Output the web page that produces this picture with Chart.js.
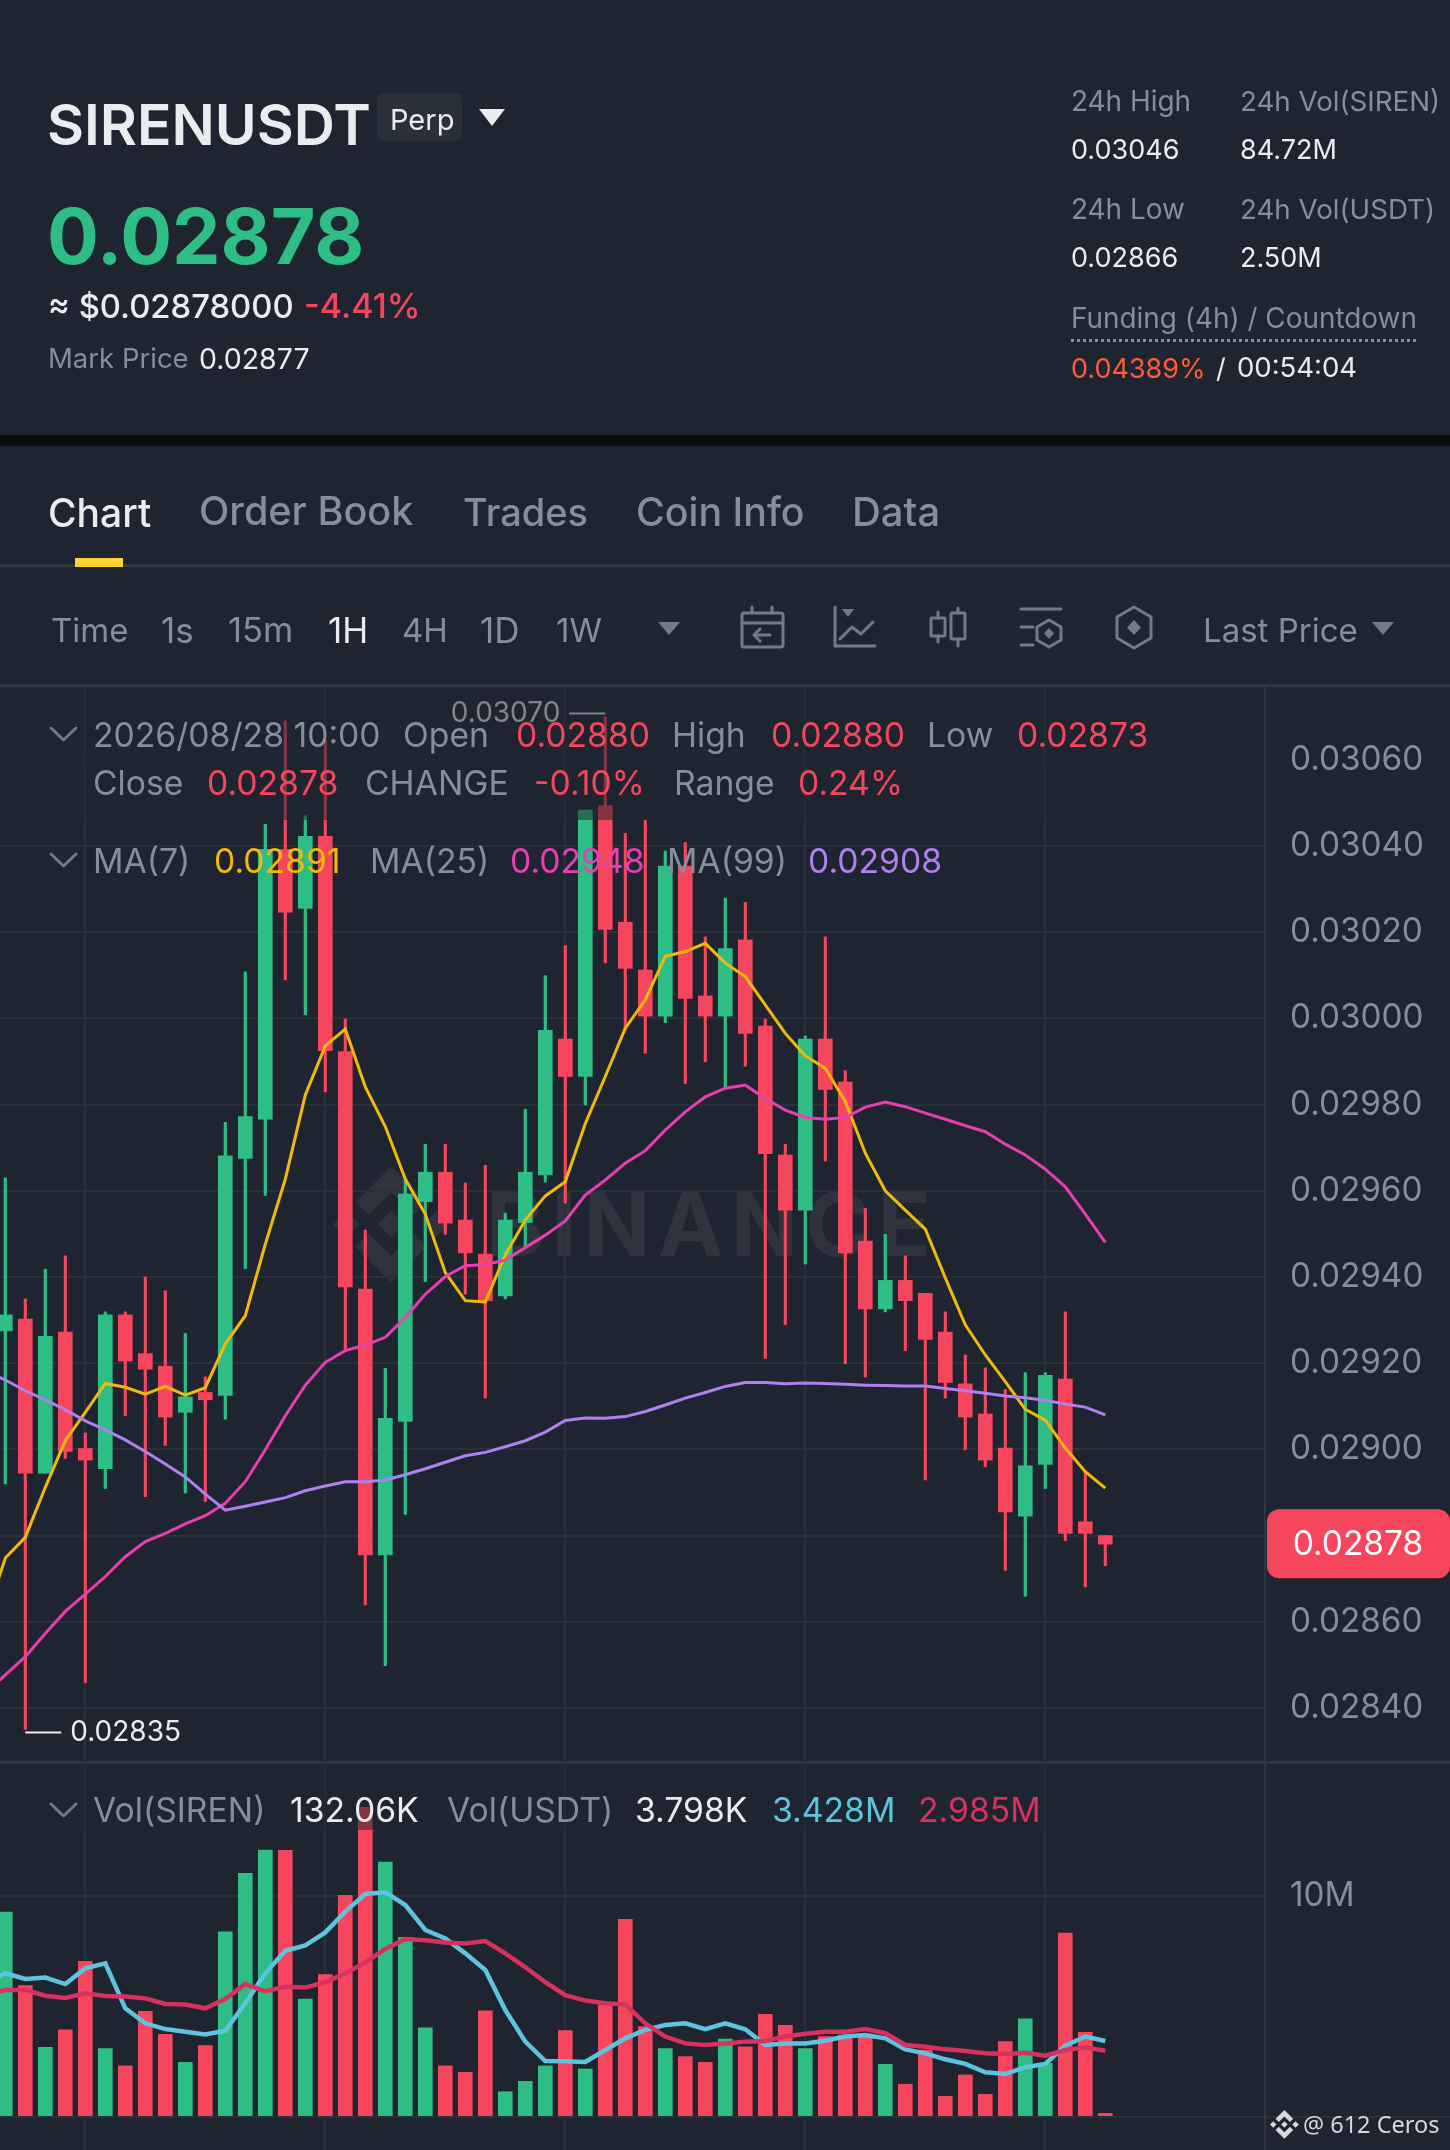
<!DOCTYPE html>
<html>
<head>
<meta charset="utf-8">
<title>SIRENUSDT Perp</title>
<script src="https://cdn.jsdelivr.net/npm/chart.js@4"></script>
<style>
    html, body { margin: 0; padding: 0; background: #1e2530; }
    body { position: relative; width: 1450px; height: 2150px; overflow: hidden; font-family: Inter, sans-serif; }
    .t { position: absolute; white-space: pre; transform: translateY(-50%); line-height: 1; }
    .box { position: absolute; }
    canvas { position: absolute; left: 0; }
    svg { position: absolute; left: 0; top: 0; }
</style>
</head>
<body>
<div class="box" style="left:0;top:435px;width:1450px;height:11px;background:#0b0e11"></div>
<div class="box" style="left:0;top:564px;width:1450px;height:3px;background:#2f3640"></div>
<div class="box" style="left:75px;top:558px;width:48px;height:9px;background:#fcd535"></div>
<div class="box" style="left:0;top:684px;width:1450px;height:3px;background:#2f3640"></div>
<div class="box" style="left:0;top:1761px;width:1450px;height:3px;background:#2f3640"></div>
<div class="box" style="left:1265px;top:2116px;width:185px;height:2px;background:#2a303a"></div>
<div class="box" style="left:377px;top:93px;width:85px;height:48px;background:#2a303a;border-radius:7px"></div>
<div class="box" style="left:1071px;top:339px;width:345px;border-top:3px dotted #848e9c"></div>

<!-- watermark sits under the candles -->
<svg id="watermark" width="1450" height="2150" viewBox="0 0 1450 2150">
    <g transform="translate(333,1166) scale(4.85)" fill="#2f333d">
        <path d="M16.624 13.9202l2.7175 2.7154-7.353 7.353-7.353-7.352 2.7175-2.7164 4.6355 4.6595 4.6356-4.6595zm4.6366-4.6366L24 12l-2.7154 2.7164L18.5682 12l2.6924-2.7164zm-9.272.001l2.7163 2.6914-2.7164 2.7174v-.001L9.2721 12l2.7164-2.7154zm-9.2722-.001L5.4088 12l-2.6914 2.6924L0 12l2.7164-2.7164zM11.9885.0115l7.353 7.329-2.7174 2.7154-4.6356-4.6356-4.6355 4.6595-2.7174-2.7154 7.353-7.353z"/>
    </g>
    <text x="486" y="1256" font-family="Inter" font-weight="700" font-size="88" fill="#2f333d" textLength="445">BINANCE</text>
</svg>

<canvas id="priceChart" width="1450" height="1076" style="top:686px;width:1450px;height:1076px"></canvas>
<canvas id="volChart" width="1450" height="388" style="top:1762px;width:1450px;height:388px"></canvas>

<!-- legend strips fade what runs under them -->
<div class="box" style="left:0;top:687px;width:1264px;height:133px;background:rgba(30,37,48,.52)"></div>
<div class="box" style="left:0;top:1764px;width:1264px;height:66px;background:rgba(30,37,48,.52)"></div>

<svg id="icons" width="1450" height="2150" viewBox="0 0 1450 2150" fill="none" stroke="#707a8a" stroke-width="3" stroke-linecap="round" stroke-linejoin="round">
    <!-- chevrons -->
    <path d="M51 728l12.500 12 12.500-12M51 854l12.500 12 12.500-12" stroke="#707a8a"/>
    <path d="M51 1804l12.500 12 12.500-12"/>
    <!-- dropdown triangles -->
    <path d="M479 109h26l-13 17z" fill="#eaecef" stroke="none"/>
    <path d="M658 622h22l-11 13z" fill="#707a8a" stroke="none"/>
    <path d="M1372 622h22l-11 13z" fill="#707a8a" stroke="none"/>
    <!-- calendar -->
    <rect x="742" y="613" width="41" height="34" rx="2"/>
    <path d="M752 607v6M772 607v6M742 623h41M770 635h-15M760 629l-6 6 6 6"/>
    <!-- chart type -->
    <path d="M835 607v39h40M840 639l12-12 9 7 12-12"/>
    <path d="M842 609h12l-6 8z" fill="#707a8a" stroke="none"/>
    <!-- candles -->
    <rect x="931" y="618" width="14" height="18" rx="1"/>
    <rect x="951" y="613" width="14" height="26" rx="1"/>
    <path d="M938 612v6M938 636v6M958 608v5M958 639v7"/>
    <!-- settings -->
    <path d="M1021 609h40M1021 627h12M1021 645h12"/>
    <path d="M1049 620l12 7v13l-12 7-12-7v-13z"/>
    <path d="M1049 628l5 5.500-5 5.500-5-5.500z" fill="#707a8a" stroke="none"/>
    <!-- hexagon -->
    <path d="M1134 607l17 10v21l-17 10-17-10v-21z"/>
    <path d="M1134 620l7 7.500-7 7.500-7-7.500z" fill="#707a8a" stroke="none"/>
</svg>

<svg id="footLogo" width="1450" height="2150" viewBox="0 0 1450 2150">
    <g transform="translate(1270,2110) scale(1.2)" fill="#d5d8dc">
        <path d="M16.624 13.9202l2.7175 2.7154-7.353 7.353-7.353-7.352 2.7175-2.7164 4.6355 4.6595 4.6356-4.6595zm4.6366-4.6366L24 12l-2.7154 2.7164L18.5682 12l2.6924-2.7164zm-9.272.001l2.7163 2.6914-2.7164 2.7174v-.001L9.2721 12l2.7164-2.7154zm-9.2722-.001L5.4088 12l-2.6914 2.6924L0 12l2.7164-2.7164zM11.9885.0115l7.353 7.329-2.7174 2.7154-4.6356-4.6356-4.6355 4.6595-2.7174-2.7154 7.353-7.353z"/>
    </g>
</svg>

<script>
// 56 hourly candles, last one is 2026/08/28 10:00
const opens = [0.029275,0.029302,0.028945,0.029272,0.029002,0.028955,0.029312,0.029222,0.029193,0.029086,0.029132,0.029125,0.029675,0.029766,0.030392,0.030255,0.030422,0.029923,0.029372,0.028755,0.029065,0.029575,0.029643,0.029532,0.029453,0.029356,0.029526,0.029637,0.029952,0.029865,0.030493,0.030223,0.030112,0.030005,0.030353,0.030052,0.030005,0.030182,0.029982,0.029683,0.029555,0.029952,0.029852,0.029483,0.029326,0.029392,0.029362,0.029272,0.029152,0.029082,0.029003,0.028845,0.028965,0.029163,0.028832,0.02880];
const closes = [0.029312,0.028945,0.029262,0.028995,0.028975,0.029312,0.029205,0.029186,0.029075,0.029122,0.029115,0.029681,0.029772,0.030392,0.030246,0.030422,0.029925,0.029377,0.028755,0.029072,0.029592,0.029643,0.029525,0.029456,0.029345,0.029532,0.029643,0.029972,0.029865,0.030483,0.030206,0.030116,0.030005,0.030353,0.030046,0.030005,0.030162,0.029965,0.029686,0.029555,0.029952,0.029835,0.029456,0.029326,0.029392,0.029345,0.029255,0.029155,0.029075,0.028975,0.028855,0.028962,0.029172,0.028805,0.028805,0.02878];
const highs = [0.02963,0.029349,0.029418,0.029449,0.029038,0.029319,0.029319,0.0294,0.029368,0.029269,0.029168,0.029759,0.030108,0.03045,0.03069,0.03047,0.030646,0.029998,0.029509,0.029188,0.029625,0.029708,0.029708,0.029618,0.029659,0.029548,0.029789,0.030099,0.030169,0.030483,0.0307,0.030429,0.030459,0.030388,0.030408,0.030189,0.030279,0.030269,0.029998,0.029708,0.029959,0.030189,0.029879,0.029559,0.029499,0.029449,0.029362,0.029319,0.029219,0.029189,0.029139,0.029178,0.029178,0.029319,0.02895,0.0288];
const lows = [0.02892,0.02835,0.028945,0.028979,0.028459,0.028909,0.029078,0.02889,0.029009,0.028899,0.028879,0.02907,0.029419,0.029589,0.030089,0.030008,0.029829,0.029231,0.028639,0.028498,0.028849,0.029389,0.029499,0.02936,0.029119,0.029349,0.029469,0.02962,0.029571,0.029799,0.030129,0.029973,0.029919,0.02999,0.029849,0.029899,0.029838,0.029889,0.029211,0.029289,0.02943,0.029669,0.029199,0.029168,0.029319,0.029229,0.028929,0.029119,0.028999,0.02896,0.028719,0.028659,0.028909,0.028788,0.028681,0.02873];

// moving averages start one candle left of the frame, they run off the edge
const ma7 = [0.028606,0.028748,0.028796,0.028912,0.02902,0.029086,0.029153,0.029144,0.029128,0.029146,0.029126,0.029143,0.029245,0.02931,0.029476,0.029627,0.029822,0.029936,0.029975,0.029841,0.029749,0.029627,0.029546,0.02941,0.029345,0.029342,0.029451,0.029532,0.029588,0.029621,0.029756,0.029865,0.029977,0.030043,0.030144,0.030155,0.030174,0.030128,0.030097,0.030031,0.029965,0.029913,0.029884,0.029807,0.029687,0.0296,0.029555,0.029511,0.029398,0.029289,0.029219,0.029157,0.029093,0.029068,0.029003,0.028948,0.02891];
const ma25 = [0.028432,0.028477,0.028519,0.028573,0.028624,0.028664,0.028705,0.028751,0.028786,0.028805,0.028827,0.028846,0.028875,0.028925,0.028999,0.029078,0.029149,0.029202,0.029229,0.029242,0.02926,0.029306,0.02936,0.029401,0.029426,0.029429,0.029439,0.029468,0.029497,0.02953,0.02959,0.029625,0.029664,0.029693,0.029741,0.029783,0.029818,0.029838,0.029845,0.029814,0.029787,0.02977,0.029766,0.02977,0.029794,0.029806,0.029795,0.02978,0.029766,0.029751,0.029737,0.029708,0.029683,0.02965,0.029609,0.029546,0.02948];
const ma99 = [0.029182,0.029161,0.029136,0.029115,0.029092,0.029066,0.029045,0.029022,0.028995,0.028966,0.028936,0.028896,0.028859,0.028868,0.028878,0.028888,0.028904,0.028915,0.028925,0.028925,0.028929,0.028941,0.028955,0.02897,0.028985,0.028993,0.029006,0.02902,0.02904,0.029067,0.029073,0.029072,0.029076,0.029088,0.029103,0.029119,0.029132,0.029146,0.029155,0.029155,0.029152,0.029154,0.029153,0.029151,0.029149,0.029148,0.029147,0.029147,0.029141,0.029136,0.02913,0.029124,0.02912,0.029114,0.029105,0.029098,0.02908];

const volumes = [9.27,5.94,3.14,3.93,7.04,3.08,2.30,4.77,3.73,2.46,3.22,8.37,11.03,12.08,12.07,5.33,6.44,10.03,14.02,11.53,8.13,4.02,2.30,2.01,4.80,1.13,1.60,2.30,3.90,2.16,5.06,8.94,4.08,3.08,2.72,2.46,3.52,3.17,4.64,4.14,3.08,3.63,3.70,3.70,2.37,1.47,3.02,0.92,1.89,1.01,3.40,4.43,2.42,8.32,3.82,0.15];
const volMa5 = [6.04,6.50,6.24,6.30,6.01,6.72,6.95,4.91,4.23,3.97,3.85,3.72,3.90,5.14,6.50,7.52,7.76,8.35,9.29,10.09,10.17,9.59,8.46,8.08,7.40,6.65,4.83,3.40,2.52,2.51,2.48,3.02,3.55,3.93,4.15,4.23,3.97,4.23,3.96,3.25,3.32,3.32,3.44,3.63,3.70,3.55,3.05,2.87,2.60,2.39,2.01,1.93,2.24,2.39,3.22,3.63,3.428];
const volMa10 = [5.51,5.74,5.74,5.48,5.38,5.59,5.47,5.44,5.36,5.11,5.08,4.91,5.33,6.01,5.68,5.89,5.85,6.09,6.50,6.98,7.60,8.05,7.99,7.89,7.85,7.96,7.40,6.77,6.09,5.51,5.26,5.14,5.09,4.23,3.63,3.32,3.25,3.32,3.40,3.43,3.63,3.76,3.85,3.85,3.97,3.78,3.25,3.17,3.05,2.98,2.87,2.84,2.90,2.76,3.02,3.13,2.985];

const priceTicks = [0.0284,0.0286,0.0288,0.029,0.0292,0.0294,0.0296,0.0298,0.03,0.0302,0.0304,0.0306];
const volTicks = [0,10];
const timeGrid = [4,16,28,40,52];

const UP = '#2ebd85';
const DOWN = '#f6465d';
const GRID = '#2a303a';
const AXIS = '#2f3640';
const MUTED = '#848e9c';
const WHITE = '#eaecef';

// labels around the chart
function put(text, x, y, size, color, weight) {
    const el = document.createElement('div');
    el.className = 't';
    el.textContent = text;
    el.style.left = x + 'px';
    el.style.top = y + 'px';
    el.style.fontSize = size + 'px';
    el.style.color = color;
    el.style.fontWeight = weight || 400;
    document.body.appendChild(el);
    return el;
}

// header
put('SIRENUSDT', 47, 124, 57, WHITE, 600);
put('Perp', 390, 119, 29, WHITE);
put('0.02878', 47, 236, 77, UP, 700);
put('≈ $0.02878000', 48, 306, 32.8, WHITE, 500);
put('-4.41%', 304, 306, 34, DOWN, 500);
put('Mark Price', 48, 359, 27.5, MUTED);
put('0.02877', 199, 359, 28.5, WHITE);
put('24h High', 1071, 102, 27.9, MUTED);
put('0.03046', 1071, 149, 27, WHITE);
put('24h Vol(SIREN)', 1240, 102, 27.7, MUTED);
put('84.72M', 1240, 149, 27, WHITE);
put('24h Low', 1071, 210, 27.9, MUTED);
put('0.02866', 1071, 257, 27, WHITE);
put('24h Vol(USDT)', 1240, 210, 27.7, MUTED);
put('2.50M', 1240, 257, 27, WHITE);
put('Funding (4h) / Countdown', 1071, 319, 27.9, MUTED);
put('0.04389%', 1071, 368, 27, '#ff5c38');
put('/', 1216, 368, 27, WHITE);
put('00:54:04', 1237, 368, 27.5, WHITE);

// tabs and toolbar
put('Chart', 48, 512, 39, WHITE, 500);
put('Order Book', 199, 512, 39.6, MUTED, 500);
put('Trades', 463, 512, 38, MUTED, 500);
put('Coin Info', 636, 512, 39.3, MUTED, 500);
put('Data', 852, 512, 40, MUTED, 500);
put('Time', 51, 630, 33, MUTED);
put('1s', 161, 630, 35, MUTED);
put('15m', 228, 630, 34.5, MUTED);
put('1H', 328, 630, 35, WHITE);
put('4H', 402, 630, 33, MUTED);
put('1D', 480, 630, 35, MUTED);
put('1W', 556, 630, 33, MUTED);
put('Last Price', 1203, 630, 33, MUTED);

// legends
put('2026/08/28 10:00', 93, 735, 33.7, MUTED);
put('Open', 403, 735, 33.7, MUTED);
put('0.02880', 516, 735, 33.7, DOWN);
put('High', 672, 735, 33.7, MUTED);
put('0.02880', 771, 735, 33.7, DOWN);
put('Low', 927, 735, 33.7, MUTED);
put('0.02873', 1017, 735, 33.7, DOWN);
put('Close', 93, 783, 33.7, MUTED);
put('0.02878', 207, 783, 33.7, DOWN);
put('CHANGE', 365, 783, 33.7, MUTED);
put('-0.10%', 534, 783, 33.7, DOWN);
put('Range', 674, 783, 33.7, MUTED);
put('0.24%', 798, 783, 33.7, DOWN);
put('MA(7)', 93, 861, 33.7, MUTED);
put('0.02891', 214, 861, 33.7, '#f0b90b');
put('MA(25)', 370, 861, 33.7, MUTED);
put('0.02948', 510, 861, 33.7, '#e83fb0');
put('MA(99)', 667, 861, 33.7, MUTED);
put('0.02908', 808, 861, 33.7, '#b07ff0');
put('Vol(SIREN)', 93, 1810, 33.7, MUTED);
put('132.06K', 290, 1810, 33.7, WHITE);
put('Vol(USDT)', 447, 1810, 33.7, MUTED);
put('3.798K', 635, 1810, 33.7, WHITE);
put('3.428M', 772, 1810, 33.7, '#5ec3dc');
put('2.985M', 918, 1810, 33.7, '#d8315f');
put('@ 612 Ceros', 1303, 2125, 23.5, '#d5d8dc').style.fontFamily = '"Noto Sans"';

Chart.defaults.font.family = 'Inter';
Chart.defaults.animation = false;
Chart.defaults.responsive = false;

// high/low flags and the last price box, placed through the price scale
const priceMarks = {
    id: 'priceMarks',
    afterDatasetsDraw(chart) {
        const { ctx, scales } = chart;
        const flag = (index, value, side) => {
            const x = scales.x.getPixelForValue(index);
            // flags sit a little outside the wick tip
            const y = scales.y.getPixelForValue(value) + side * 3;
            ctx.save();
            ctx.strokeStyle = WHITE;
            ctx.fillStyle = WHITE;
            ctx.lineWidth = 2;
            ctx.beginPath();
            ctx.moveTo(x, y);
            ctx.lineTo(x + side * 36, y);
            ctx.stroke();
            ctx.font = '28px Inter';
            ctx.textBaseline = 'middle';
            ctx.textAlign = side > 0 ? 'left' : 'right';
            ctx.fillText(value.toFixed(5), x + side * 45, y);
            ctx.restore();
        };
        const hi = Math.max(...highs);
        const lo = Math.min(...lows);
        flag(highs.indexOf(hi), hi, -1);
        flag(lows.indexOf(lo), lo, 1);
    },
    afterDraw(chart) {
        const { ctx, scales } = chart;
        const last = closes[closes.length - 1];
        const y = scales.y.getPixelForValue(last);
        ctx.save();
        ctx.fillStyle = DOWN;
        ctx.beginPath();
        ctx.roundRect(1267, y - 35, 183, 69, 12);
        ctx.fill();
        ctx.fillStyle = '#ffffff';
        ctx.font = '33.5px Inter';
        ctx.textBaseline = 'middle';
        ctx.textAlign = 'center';
        ctx.fillText(last.toFixed(5), 1358, y + 1);
        ctx.restore();
    }
};

const xAxis = {
    type: 'linear',
    min: -0.265,
    max: 62.985,
    offset: false,
    afterBuildTicks: s => { s.ticks = timeGrid.map(v => ({ value: v })); },
    afterFit: s => { s.height = 0; },
    ticks: { display: false },
    border: { display: false },
    grid: { color: GRID, lineWidth: 2, drawTicks: false, offset: false }
};

const rightAxis = {
    position: 'right',
    afterFit: s => {
        // the tick labels must not push the plot area in
        s.width = 185;
        s.paddingTop = 0;
        s.paddingBottom = 0;
    },
    border: { display: true, color: AXIS, width: 2 },
    grid: { color: GRID, lineWidth: 2, drawTicks: false },
    ticks: { color: MUTED, padding: 25, font: { size: 33.3 } }
};

const lineSet = (values, color, width) => ({
    type: 'line',
    data: values.map((v, k) => ({ x: k - 1, y: v })),
    borderColor: color,
    borderWidth: width,
    pointRadius: 0,
    tension: 0,
    order: 0
});

const candleColors = closes.map((c, i) => (c >= opens[i] ? UP : DOWN));

new Chart(document.getElementById('priceChart'), {
    type: 'bar',
    data: {
        datasets: [
            lineSet(ma99, '#b07ff0', 3),
            lineSet(ma25, '#e83fb0', 3),
            lineSet(ma7, '#f0b90b', 3),
            {
                data: opens.map((o, i) => ({ x: i, y: [o, closes[i]] })),
                backgroundColor: candleColors,
                barThickness: 14,
                grouped: false,
                order: 1
            },
            {
                data: lows.map((l, i) => ({ x: i, y: [l, highs[i]] })),
                backgroundColor: candleColors,
                barThickness: 2.5,
                grouped: false,
                order: 2
            }
        ]
    },
    options: {
        layout: { padding: 0, autoPadding: false },
        plugins: { legend: { display: false }, tooltip: { enabled: false } },
        scales: {
            x: xAxis,
            y: {
                ...rightAxis,
                min: 0.0282747,
                max: 0.0307710,
                afterBuildTicks: s => { s.ticks = priceTicks.map(v => ({ value: v })); },
                ticks: { ...rightAxis.ticks, callback: v => v.toFixed(5) }
            }
        }
    },
    plugins: [priceMarks]
});

new Chart(document.getElementById('volChart'), {
    type: 'bar',
    data: {
        datasets: [
            lineSet(volMa10, '#d8315f', 4.5),
            lineSet(volMa5, '#5ec3dc', 4.5),
            {
                data: volumes.map((v, i) => ({ x: i, y: v })),
                backgroundColor: candleColors,
                barThickness: 14,
                grouped: false,
                order: 1
            }
        ]
    },
    options: {
        layout: { padding: 0, autoPadding: false },
        plugins: { legend: { display: false }, tooltip: { enabled: false } },
        scales: {
            x: xAxis,
            y: {
                ...rightAxis,
                min: -1.51,
                max: 16.07,
                afterBuildTicks: s => { s.ticks = volTicks.map(v => ({ value: v })); },
                ticks: { ...rightAxis.ticks, callback: v => (v > 0 ? v + 'M' : '') }
            }
        }
    }
});
</script>
</body>
</html>
